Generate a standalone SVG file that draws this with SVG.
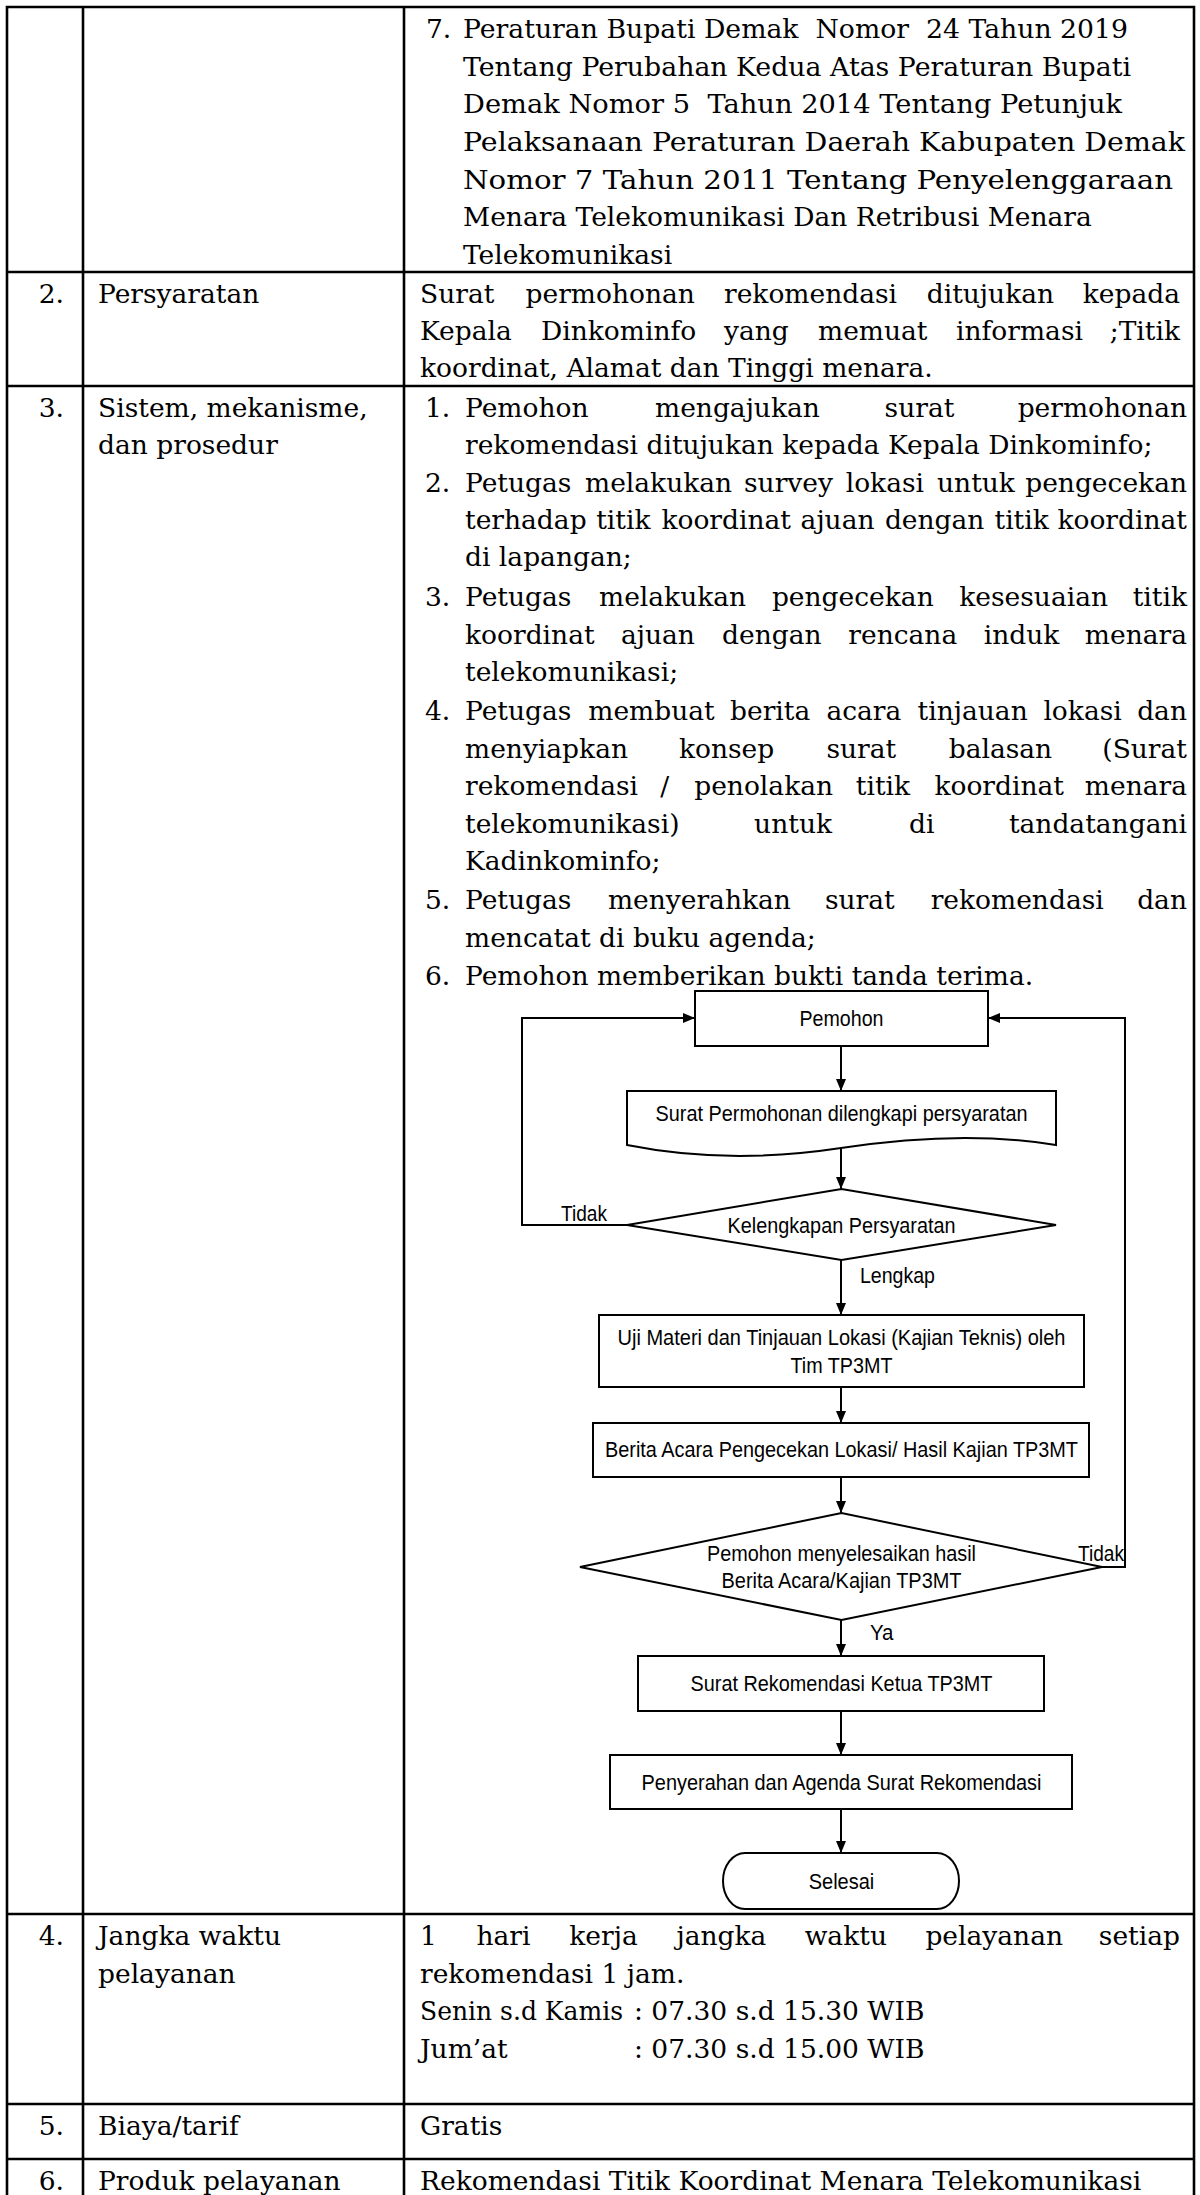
<svg xmlns="http://www.w3.org/2000/svg" width="1200" height="2195" viewBox="0 0 1200 2195">
<style>
.t{font-family:"DejaVu Serif","Liberation Serif",serif;font-size:26.5px;fill:#000}
.n{text-anchor:end}
.f{font-family:"Liberation Sans",Arial,sans-serif;font-size:22px;fill:#000}
.c{text-anchor:middle}
.grid{stroke:#000;stroke-width:2.6;fill:none}
.node{fill:#fff;stroke:#000;stroke-width:2}
.edge{stroke:#000;stroke-width:2;fill:none;marker-end:url(#ah)}
</style>
<defs>
<marker id="ah" viewBox="0 0 12 10" refX="12" refY="5" markerWidth="12" markerHeight="10" markerUnits="userSpaceOnUse" orient="auto"><path d="M0,0 L12,5 L0,10 z" fill="#000"/></marker>
</defs>
<rect x="0" y="0" width="1200" height="2195" fill="#fff"/>
<g id="table">
<path class="grid" d="M7,7 H1194 M7,272 H1194 M7,386 H1194 M7,1914 H1194 M7,2104 H1194 M7,2159 H1194 M7,5.7 V2195 M83,7 V2195 M404,7 V2195 M1194,5.7 V2195"/>
</g>
<g id="row1">
<text class="t" x="426" y="38">7.</text>
<text class="t" x="463" y="38" xml:space="preserve" textLength="665" lengthAdjust="spacingAndGlyphs">Peraturan Bupati Demak  Nomor  24 Tahun 2019</text>
<text class="t" x="463" y="75.7" textLength="668" lengthAdjust="spacingAndGlyphs">Tentang Perubahan Kedua Atas Peraturan Bupati</text>
<text class="t" x="463" y="113.3" xml:space="preserve" textLength="659" lengthAdjust="spacingAndGlyphs">Demak Nomor 5  Tahun 2014 Tentang Petunjuk</text>
<text class="t" x="463" y="151" textLength="722" lengthAdjust="spacingAndGlyphs">Pelaksanaan Peraturan Daerah Kabupaten Demak</text>
<text class="t" x="463" y="188.7" textLength="710" lengthAdjust="spacingAndGlyphs">Nomor 7 Tahun 2011 Tentang Penyelenggaraan</text>
<text class="t" x="463" y="226.3">Menara Telekomunikasi Dan Retribusi Menara</text>
<text class="t" x="463" y="264">Telekomunikasi</text>
</g>
<g id="row2">
<text class="t n" x="64" y="303">2.</text>
<text class="t" x="98" y="303">Persyaratan</text>
<text class="t" y="303"><tspan x="420">Surat</tspan><tspan x="525.5">permohonan</tspan><tspan x="724">rekomendasi</tspan><tspan x="926.7">ditujukan</tspan><tspan x="1180" text-anchor="end">kepada</tspan></text>
<text class="t" y="340"><tspan x="420">Kepala</tspan><tspan x="541">Dinkominfo</tspan><tspan x="724">yang</tspan><tspan x="818">memuat</tspan><tspan x="956">informasi</tspan><tspan x="1180" text-anchor="end">;Titik</tspan></text>
<text class="t" x="420" y="377">koordinat, Alamat dan Tinggi menara.</text>
</g>
<g id="row3">
<text class="t n" x="64" y="417">3.</text>
<text class="t" x="98" y="417">Sistem, mekanisme,</text>
<text class="t" x="98" y="454">dan prosedur</text>
<text class="t" x="425" y="417">1.</text>
<text class="t" y="417"><tspan x="465">Pemohon</tspan><tspan x="655">mengajukan</tspan><tspan x="884.6">surat</tspan><tspan x="1187" text-anchor="end">permohonan</tspan></text>
<text class="t" x="465" y="454">rekomendasi ditujukan kepada Kepala Dinkominfo;</text>
<text class="t" x="425" y="491.5">2.</text>
<text class="t" y="491.5"><tspan x="465">Petugas</tspan><tspan x="585">melakukan</tspan><tspan x="744">survey</tspan><tspan x="845.7">lokasi</tspan><tspan x="937">untuk</tspan><tspan x="1187" text-anchor="end">pengecekan</tspan></text>
<text class="t" y="529"><tspan x="465">terhadap</tspan><tspan x="596.2">titik</tspan><tspan x="661.4">koordinat</tspan><tspan x="800.6">ajuan</tspan><tspan x="884.9">dengan</tspan><tspan x="994.5">titik</tspan><tspan x="1187" text-anchor="end">koordinat</tspan></text>
<text class="t" x="465" y="566">di lapangan;</text>
<text class="t" x="425" y="606">3.</text>
<text class="t" y="606"><tspan x="465">Petugas</tspan><tspan x="599">melakukan</tspan><tspan x="771.9">pengecekan</tspan><tspan x="959.2">kesesuaian</tspan><tspan x="1187" text-anchor="end">titik</tspan></text>
<text class="t" y="643.5"><tspan x="465">koordinat</tspan><tspan x="620.9">ajuan</tspan><tspan x="722">dengan</tspan><tspan x="848.3">rencana</tspan><tspan x="983.8">induk</tspan><tspan x="1187" text-anchor="end">menara</tspan></text>
<text class="t" x="465" y="681">telekomunikasi;</text>
<text class="t" x="425" y="720">4.</text>
<text class="t" y="720"><tspan x="465">Petugas</tspan><tspan x="588.3">membuat</tspan><tspan x="730">berita</tspan><tspan x="826.4">acara</tspan><tspan x="917.6">tinjauan</tspan><tspan x="1043.4">lokasi</tspan><tspan x="1187" text-anchor="end">dan</tspan></text>
<text class="t" y="757.5"><tspan x="465">menyiapkan</tspan><tspan x="678.9">konsep</tspan><tspan x="826.4">surat</tspan><tspan x="948.7">balasan</tspan><tspan x="1187" text-anchor="end">(Surat</tspan></text>
<text class="t" y="795"><tspan x="465">rekomendasi</tspan><tspan x="660.2">/</tspan><tspan x="694.2">penolakan</tspan><tspan x="855.8">titik</tspan><tspan x="934.4">koordinat</tspan><tspan x="1187" text-anchor="end">menara</tspan></text>
<text class="t" y="832.5"><tspan x="465">telekomunikasi)</tspan><tspan x="754.1">untuk</tspan><tspan x="909.1">di</tspan><tspan x="1187" text-anchor="end">tandatangani</tspan></text>
<text class="t" x="465" y="870">Kadinkominfo;</text>
<text class="t" x="425" y="909">5.</text>
<text class="t" y="909"><tspan x="465">Petugas</tspan><tspan x="607.9">menyerahkan</tspan><tspan x="824.9">surat</tspan><tspan x="930.7">rekomendasi</tspan><tspan x="1187" text-anchor="end">dan</tspan></text>
<text class="t" x="465" y="946.5">mencatat di buku agenda;</text>
<text class="t" x="425" y="985">6.</text>
<text class="t" x="465" y="985">Pemohon memberikan bukti tanda terima.</text>
</g>
<g id="connectors">
<path class="edge" d="M841,1046 V1091"/>
<path class="edge" d="M841,1148 V1189"/>
<path class="edge" d="M841,1260 V1315"/>
<path class="edge" d="M841,1387 V1423"/>
<path class="edge" d="M841,1477 V1513"/>
<path class="edge" d="M841,1620 V1656"/>
<path class="edge" d="M841,1711 V1755"/>
<path class="edge" d="M841,1809 V1853"/>
<path class="edge" d="M627,1225 H522 V1018 H695"/>
<path class="edge" d="M1102,1567 H1125 V1018 H988"/>
<text class="f" x="561" y="1221" textLength="46" lengthAdjust="spacingAndGlyphs">Tidak</text>
<text class="f" x="860" y="1283" textLength="75" lengthAdjust="spacingAndGlyphs">Lengkap</text>
<text class="f" x="1078" y="1561" textLength="46" lengthAdjust="spacingAndGlyphs">Tidak</text>
<text class="f" x="870" y="1640" textLength="23.5" lengthAdjust="spacingAndGlyphs">Ya</text>
</g>
<g id="n-pemohon">
<rect class="node" x="695" y="991" width="293" height="55"/>
<text class="f c" x="841.5" y="1026" textLength="84" lengthAdjust="spacingAndGlyphs">Pemohon</text>
</g>
<g id="n-surat">
<path class="node" d="M627,1091 H1056 V1145 C990,1134 920,1136 841,1148 C762,1160 692,1158 627,1145 Z"/>
<text class="f c" x="841.5" y="1121" textLength="372" lengthAdjust="spacingAndGlyphs">Surat Permohonan dilengkapi persyaratan</text>
</g>
<g id="n-kelengkapan">
<polygon class="node" points="627,1225 841.5,1189 1056,1225 841.5,1260"/>
<text class="f c" x="841.5" y="1233" textLength="228" lengthAdjust="spacingAndGlyphs">Kelengkapan Persyaratan</text>
</g>
<g id="n-uji">
<rect class="node" x="599" y="1315" width="485" height="72"/>
<text class="f c" x="841.5" y="1345" textLength="448" lengthAdjust="spacingAndGlyphs">Uji Materi dan Tinjauan Lokasi (Kajian Teknis) oleh</text>
<text class="f c" x="841.5" y="1373" textLength="102" lengthAdjust="spacingAndGlyphs">Tim TP3MT</text>
</g>
<g id="n-berita">
<rect class="node" x="593" y="1423" width="496" height="54"/>
<text class="f c" x="841.5" y="1457" textLength="473" lengthAdjust="spacingAndGlyphs">Berita Acara Pengecekan Lokasi/ Hasil Kajian TP3MT</text>
</g>
<g id="n-menyelesaikan">
<polygon class="node" points="580,1567 841.5,1513 1102,1567 841.5,1620"/>
<text class="f c" x="841.5" y="1561" textLength="269" lengthAdjust="spacingAndGlyphs">Pemohon menyelesaikan hasil</text>
<text class="f c" x="841.5" y="1588" textLength="240" lengthAdjust="spacingAndGlyphs">Berita Acara/Kajian TP3MT</text>
</g>
<g id="n-rekomendasi">
<rect class="node" x="638" y="1656" width="406" height="55"/>
<text class="f c" x="841.5" y="1691" textLength="302" lengthAdjust="spacingAndGlyphs">Surat Rekomendasi Ketua TP3MT</text>
</g>
<g id="n-penyerahan">
<rect class="node" x="610" y="1755" width="462" height="54"/>
<text class="f c" x="841.5" y="1790" textLength="400" lengthAdjust="spacingAndGlyphs">Penyerahan dan Agenda Surat Rekomendasi</text>
</g>
<g id="n-selesai">
<rect class="node" x="723" y="1853" width="236" height="56" rx="22" ry="28"/>
<text class="f c" x="841.5" y="1889" textLength="65.5" lengthAdjust="spacingAndGlyphs">Selesai</text>
</g>
<g id="row4">
<text class="t n" x="64" y="1945">4.</text>
<text class="t" x="98" y="1945">Jangka waktu</text>
<text class="t" x="98" y="1982.5">pelayanan</text>
<text class="t" y="1945"><tspan x="420">1</tspan><tspan x="476.4">hari</tspan><tspan x="569.3">kerja</tspan><tspan x="676.5">jangka</tspan><tspan x="804.7">waktu</tspan><tspan x="925.4">pelayanan</tspan><tspan x="1180" text-anchor="end">setiap</tspan></text>
<text class="t" x="420" y="1982.5">rekomendasi 1 jam.</text>
<text class="t" x="420" y="2020" textLength="203" lengthAdjust="spacingAndGlyphs">Senin s.d Kamis</text>
<text class="t" x="634" y="2020">: 07.30 s.d 15.30 WIB</text>
<text class="t" x="420" y="2057.5">Jum’at</text>
<text class="t" x="634" y="2057.5">: 07.30 s.d 15.00 WIB</text>
</g>
<g id="row5">
<text class="t n" x="64" y="2135">5.</text>
<text class="t" x="98" y="2135">Biaya/tarif</text>
<text class="t" x="420" y="2135">Gratis</text>
</g>
<g id="row6">
<text class="t n" x="64" y="2190">6.</text>
<text class="t" x="98" y="2190">Produk pelayanan</text>
<text class="t" x="420" y="2190">Rekomendasi Titik Koordinat Menara Telekomunikasi</text>
</g>
</svg>
